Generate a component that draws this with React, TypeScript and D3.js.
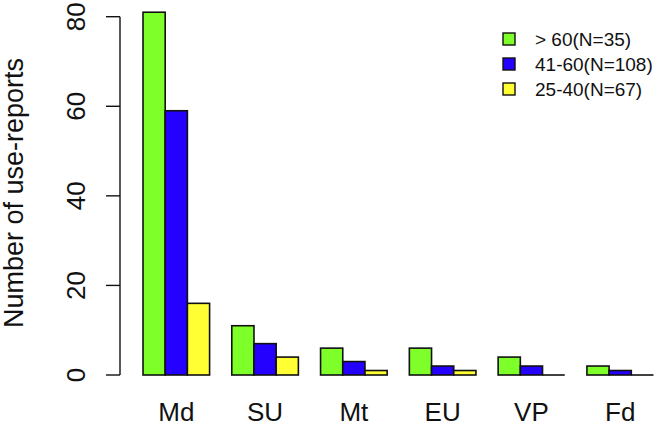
import React from "react";
import * as d3 from "d3";

const categories = ["Md", "SU", "Mt", "EU", "VP", "Fd"];
const seriesNames = ["> 60(N=35)", "41-60(N=108)", "25-40(N=67)"];
const over60 = [81, 11, 6, 6, 4, 2];
const age41to60 = [59, 7, 3, 2, 2, 1];
const age25to40 = [16, 4, 1, 1, 0, 0];
const yTicks = [0, 20, 40, 60, 80];
const colors = ["#7fff2a", "#2400ff", "#ffff33"];

const width = 664;
const height = 427;
const font = "'Liberation Sans', Arial, sans-serif";

export default function App() {
  const series = [over60, age41to60, age25to40];

  // one group per category, gap of one bar width before each group
  const x0 = d3
    .scaleBand<string>()
    .domain(categories)
    .range([143, 653.5])
    .paddingInner(0.25)
    .paddingOuter(0);
  const x1 = d3
    .scaleBand<number>()
    .domain([0, 1, 2])
    .range([0, x0.bandwidth()]);
  const y = d3.scaleLinear().domain([0, 80]).range([375, 16.7]);

  const axisX = 120;

  return (
    <svg
      width={width}
      height={height}
      style={{ position: "absolute", left: 0, top: 0, background: "#fff" }}
    >
      {/* bars */}
      {categories.map((cat, i) => (
        <g key={cat} transform={`translate(${x0(cat)},0)`}>
          {series.map((s, j) =>
            s[i] > 0 ? (
              <rect
                key={j}
                x={x1(j)}
                y={y(s[i])}
                width={x1.bandwidth()}
                height={y(0) - y(s[i])}
                fill={colors[j]}
                stroke="#111"
                strokeWidth={1.6}
              />
            ) : (
              // zero bars still leave a flat outline, as R does
              <line
                key={j}
                x1={x1(j)}
                x2={(x1(j) || 0) + x1.bandwidth()}
                y1={y(0)}
                y2={y(0)}
                stroke="#111"
                strokeWidth={1.6}
              />
            )
          )}
          <text
            x={x0.bandwidth() / 2}
            y={421}
            textAnchor="middle"
            fontFamily={font}
            fontSize={26}
            fill="#111"
          >
            {cat}
          </text>
        </g>
      ))}

      {/* y axis */}
      <line
        x1={axisX}
        x2={axisX}
        y1={y(80)}
        y2={y(0)}
        stroke="#111"
        strokeWidth={1.4}
      />
      {yTicks.map((t) => (
        <g key={t}>
          <line
            x1={axisX - 14}
            x2={axisX}
            y1={y(t)}
            y2={y(t)}
            stroke="#111"
            strokeWidth={1.4}
          />
          <text
            transform={`translate(85,${y(t)}) rotate(-90)`}
            textAnchor="middle"
            fontFamily={font}
            fontSize={26}
            fill="#111"
          >
            {t}
          </text>
        </g>
      ))}
      <text
        transform={`translate(23,193) rotate(-90)`}
        textAnchor="middle"
        fontFamily={font}
        fontSize={27}
        fill="#111"
      >
        Number of use-reports
      </text>

      {/* legend */}
      {seriesNames.map((name, j) => (
        <g key={name} transform={`translate(503,${39 + j * 25})`}>
          <rect
            x={0}
            y={-6}
            width={12}
            height={12}
            fill={colors[j]}
            stroke="#111"
            strokeWidth={1.4}
          />
          <text
            x={32}
            y={7}
            fontFamily={font}
            fontSize={19}
            fill="#111"
          >
            {name}
          </text>
        </g>
      ))}
    </svg>
  );
}
